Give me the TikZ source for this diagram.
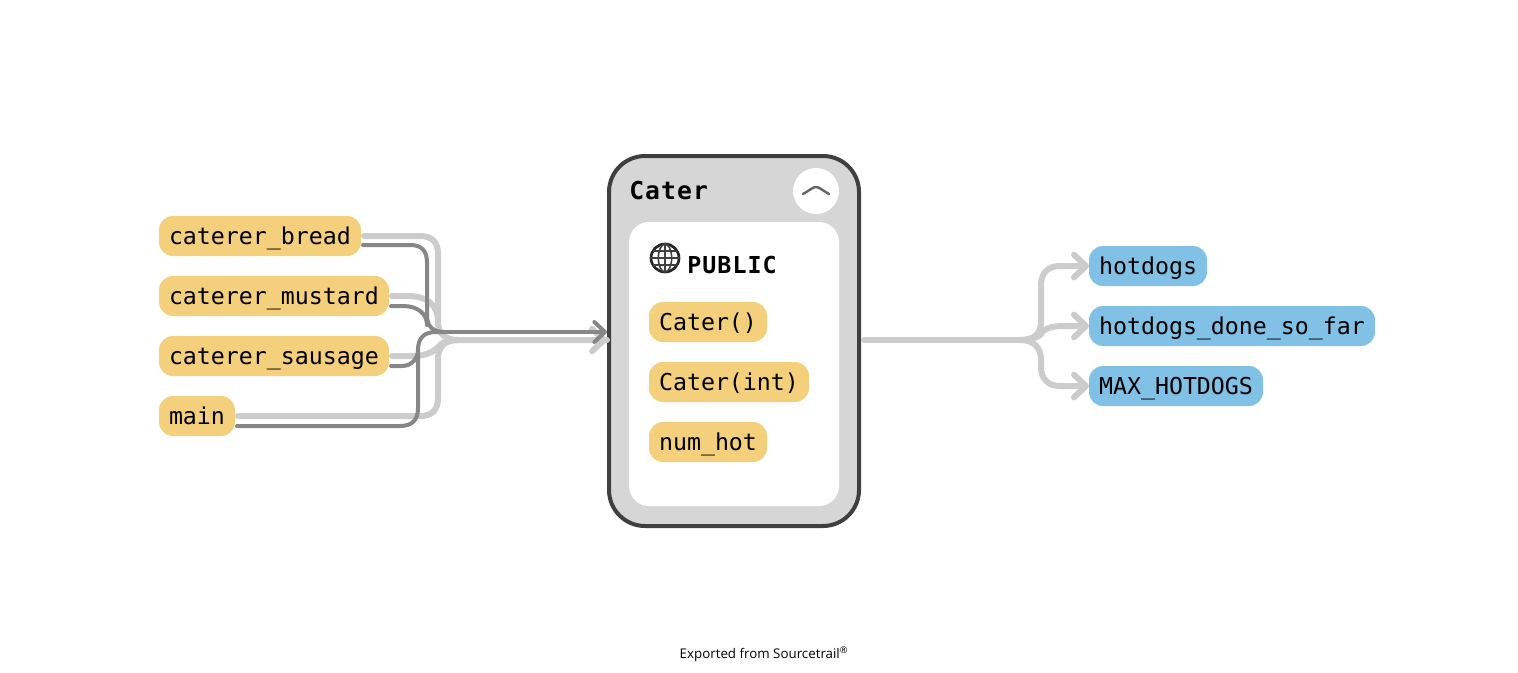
\documentclass[tikz,border=0pt]{standalone}
\usepackage{fontspec}
\setmainfont{Open Sans}
\newfontfamily\codefont{DejaVu Sans Mono}
\newfontfamily\titlefont[LetterSpace=4.5]{DejaVu Sans Mono}
\usepackage{tikz}
\usetikzlibrary{positioning,arrows.meta,calc}
\usepackage{xcolor}
\definecolor{fnfill}{RGB}{244,207,124}
\definecolor{varfill}{RGB}{129,193,230}
\definecolor{classfill}{RGB}{214,214,214}
\definecolor{classline}{RGB}{63,63,63}
\definecolor{calledge}{RGB}{135,135,135}
\definecolor{useedge}{RGB}{204,204,204}

\begin{document}
\begin{tikzpicture}[
  x=0.75pt, y=-0.75pt,
  pill/.style={rounded corners=10.5pt, minimum height=30pt, inner xsep=7.5pt, inner ysep=0pt,
    outer sep=0pt, font=\codefont\fontsize{17.44}{20}\selectfont, text=black, text height=14pt, text depth=1.5pt},
  fn/.style={pill, fill=fnfill},
  var/.style={pill, fill=varfill},
  useline/.style={draw=useedge, line width=4.5pt, line cap=round},
  callline/.style={draw=calledge, line width=3pt, line cap=round},
  usetip/.style={-{Straight Barb[length=9pt,width=17pt,line width=4.5pt,round]}},
  calltip/.style={-{Straight Barb[length=8pt,width=15pt,line width=3pt,round]}}
]
\useasboundingbox (0,0) rectangle (1518,672);

% class box
\node[draw=classline, fill=classfill, line width=3pt, rounded corners=27pt, minimum width=187.5pt,
  minimum height=277.5pt, outer sep=0pt] (cater) at (734,341) {};
\node[fill=white, rounded corners=15pt, minimum width=157.5pt, minimum height=213pt, outer sep=0pt]
  (panel) at (734,364) {};
\node[font=\titlefont\bfseries\fontsize{18.5}{22}\selectfont, anchor=west, inner sep=0pt] (title) at (629,191) {Cater};
\node[circle, fill=white, minimum size=34.5pt, inner sep=0pt] (toggle) at (816,191) {};
\draw[draw=classline!80, line width=1.8pt, line cap=round] ($(toggle)+(-13,3)$) .. controls ($(toggle)+(-6,-1)$) and ($(toggle)+(-3,-4)$) .. ($(toggle)+(0,-4)$)
  .. controls ($(toggle)+(3,-4)$) and ($(toggle)+(6,-1)$) .. ($(toggle)+(13,3)$);

% public section
\node[circle, draw=black!85, line width=2pt, minimum size=21pt, inner sep=0pt] (globe) at (665,258) {};
\draw[black!75, line width=1.2pt] (globe.north) -- (globe.south) (globe.west) -- (globe.east)
  ($(globe)+(-12,-7)$) -- ($(globe)+(12,-7)$) ($(globe)+(-12,7)$) -- ($(globe)+(12,7)$);
\draw[black!75, line width=1.2pt] (globe.center) ellipse (5pt and 10.5pt);
\node[font=\titlefont\bfseries\fontsize{17.5}{20}\selectfont, anchor=west, inner sep=0pt] (public) at (687,265) {PUBLIC};

% members
\node[fn, anchor=north west] (ctor) at (649,302) {Cater()};
\node[fn, below=15pt of ctor.south west, anchor=north west] (ctorint) {Cater(int)};
\node[fn, below=15pt of ctorint.south west, anchor=north west] (numhot) {num\_hot};

% callers
\node[fn, anchor=north west] (bread) at (159,216) {caterer\_bread};
\node[fn, below=15pt of bread.south west, anchor=north west] (mustard) {caterer\_mustard};
\node[fn, below=15pt of mustard.south west, anchor=north west] (sausage) {caterer\_sausage};
\node[fn, below=15pt of sausage.south west, anchor=north west] (main) {main};

% used fields
\node[var, anchor=north west] (hotdogs) at (1089,246) {hotdogs};
\node[var, below=15pt of hotdogs.south west, anchor=north west] (donesofar) {hotdogs\_done\_so\_far};
\node[var, below=15pt of donesofar.south west, anchor=north west] (maxhot) {MAX\_HOTDOGS};

\coordinate (lightin) at ($(cater.west)+(-2,-1)$);
\coordinate (darkin) at ($(cater.west)+(-2,-9)$);
\coordinate (lightout) at ($(cater.east)+(5,-1)$);

% light edges
\draw[useline] ([xshift=2.25pt]bread.east) -- (420,236) .. controls (432,236) and (438,242) .. (438,254) -- (438,322)
  .. controls (438,334) and (446,340) .. (458,340) -- (lightin);
\draw[useline] ([xshift=2.25pt]mustard.east) -- (408,296) .. controls (426,296) and (438,304) .. (438,322);
\draw[useline] ([xshift=2.25pt]sausage.east) -- (412,356) .. controls (426,356) and (434,352) .. (440,345) .. controls (444,341) and (450,340) .. (458,340);
\draw[useline] ([xshift=2.25pt]main.east) -- (420,416) .. controls (432,416) and (438,410) .. (438,398) -- (438,358)
  .. controls (438,346) and (446,340) .. (458,340);
\draw[useline, usetip] (458,340) -- (lightin);

% right side
\draw[useline] (lightout) -- (1020,340);
\draw[useline, usetip] (1020,340) .. controls (1034,340) and (1041,334) .. (1041,322) -- (1041,285)
  .. controls (1041,273) and (1048,266) .. (1060,266) -- (hotdogs.west);
\draw[useline, usetip] (1020,340) .. controls (1034,340) and (1041,336) .. (1043,331)
  .. controls (1048,327) and (1055,326) .. (1065,326) -- (donesofar.west);
\draw[useline, usetip] (1020,340) .. controls (1034,340) and (1041,348) .. (1041,360) -- (1041,367)
  .. controls (1041,379) and (1048,386) .. (1060,386) -- (maxhot.west);

% dark edges
\draw[callline] ([xshift=1.5pt,yshift=-6.75pt]bread.east) -- (410,245) .. controls (422,245) and (427,251) .. (427,263) -- (427,315)
  .. controls (427,327) and (433,332) .. (445,332);
\draw[callline] ([xshift=1.5pt,yshift=-7.5pt]mustard.east) -- (403,306) .. controls (418,306) and (427,314) .. (427,325);
\draw[callline] ([xshift=1.5pt,yshift=-7.5pt]sausage.east) -- (402,366) .. controls (412,366) and (418,358) .. (418,350);
\draw[callline] ([xshift=1.5pt,yshift=-7.5pt]main.east) -- (400,426) .. controls (412,426) and (418,420) .. (418,408) -- (418,350)
  .. controls (418,338) and (424,332) .. (436,332) -- (445,332);
\draw[callline, calltip] (445,332) -- (darkin);

\node[font=\fontsize{10}{12}\selectfont, inner sep=0pt] (footer) at (764,654) {Exported from Sourcetrail\textsuperscript{\textregistered}};
\end{tikzpicture}
\end{document}
